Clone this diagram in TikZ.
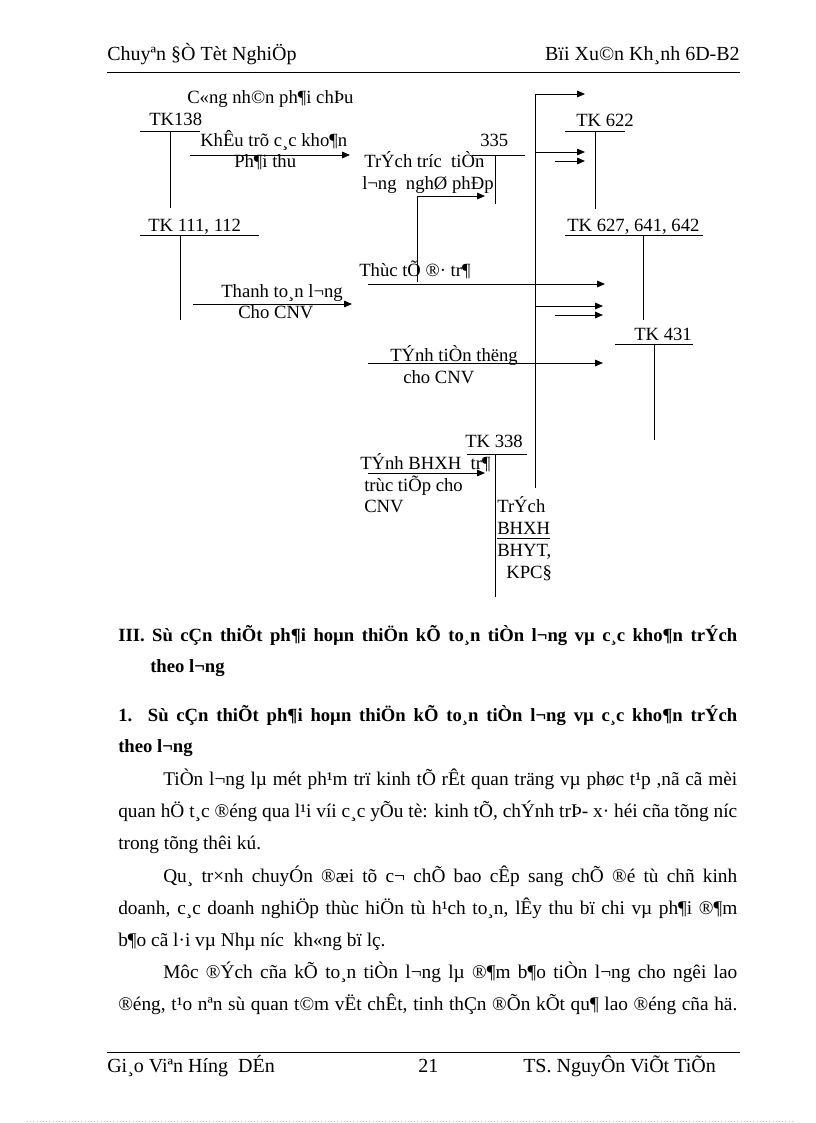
\documentclass[tikz,border=0pt]{standalone}
\usepackage{fontspec}
\setmainfont{Liberation Serif}
\usetikzlibrary{arrows.meta, positioning}

\begin{document}
\begin{tikzpicture}[x=0.75pt, y=-0.75pt,
    every node/.style={font=\fontsize{14}{16}\selectfont, inner sep=0pt, anchor=base west},
    ln/.style={line width=0.6pt},
    arr/.style={-{Triangle[length=6pt, width=5pt]}, line width=0.6pt},
    hd/.style={font=\fontsize{14}{16}\selectfont\bfseries},
    tx/.style={font=\fontsize{14.5}{16}\selectfont},
    pg/.style={font=\fontsize{15}{17}\selectfont}
]
\useasboundingbox (0,0) rectangle (816,1123);

% header
\node[pg] (hdl) at (107,61) {Chuyªn §Ò Tèt NghiÖp};
\node[pg, anchor=base east] (hdr) at (740,61) {Bïi Xu©n Kh¸nh 6D-B2};
\draw[ln] (107,72) -- (740,72);

% accounts
\node (tk138) at (149,126) {TK138};
\draw[ln] (140,131) -- (200,131) (170,131) -- (170,208);
\node (tk111) at (148,232) {TK 111, 112};
\draw[ln] (140,235) -- (259,235) (180,235) -- (180,320);
\node (tk335) at (480,147) {335};
\draw[ln] (472,155) -- (525,155) (495,155) -- (495,204);
\node (tk622) at (576,127) {TK 622};
\draw[ln] (565,131) -- (625,131) (595,131) -- (595,209);
\node (tk627) at (567,232) {TK 627, 641, 642};
\draw[ln] (565,235) -- (703,235) (643,235) -- (643,320);
\node (tk431) at (634,340) {TK 431};
\draw[ln] (615,344) -- (693,344) (654,344) -- (654,440);
\node (tk338) at (465,447) {TK 338};
\draw[ln] (467,454) -- (527,454) (495,454) -- (495,597);
\draw[ln] (535,94) -- (535,488);

% labels
\node (cnpc) at (187,104) {C«ng nh©n ph¶i chÞu};
\node (khtr) at (200,147) {KhÊu trõ c¸c kho¶n};
\node (phth) at (234,168) {Ph¶i thu};
\node (ttl) at (221,297) {Thanh to¸n l¬ng};
\node (ccnv) at (238,318) {Cho CNV};
\node (tttr) at (359,276) {Thùc tÕ ®· tr¶};
\node (tttl) at (364,168) {TrÝch tr­íc~ tiÒn};
\node (lnp) at (362,190) {l¬ng~ nghØ phÐp};
\node (tnth) at (390,361) {TÝnh tiÒn th­ëng};
\node (cnv2) at (403,383) {cho CNV};
\node (tbh1) at (360,469) {TÝnh BHXH~ tr¶};
\node (tbh2) at (364,491) {trùc tiÕp cho};
\node (tbh3) at (364,512) {CNV};
\node (tr1) at (497,512) {TrÝch};
\node (tr2) at (497,534) {BHXH};
\draw[ln] (497,538) -- (550,538);
\node (tr3) at (497,556) {BHYT,};
\node (tr4) at (506,578) {KPC§};

% arrows
\coordinate (a1s) at (190,155); \coordinate (a1e) at (350,155);
\draw[arr] (a1s) -- (a1e);
\coordinate (a2s) at (193,304); \coordinate (a2e) at (352,304);
\draw[arr] (a2s) -- (a2e);
\coordinate (a3s) at (417,282); \coordinate (a3m) at (417,196); \coordinate (a3e) at (485,196);
\draw[arr] (a3s) -- (a3m) -- (a3e);
\coordinate (a4s) at (368,284); \coordinate (a4e) at (605,284);
\draw[arr] (a4s) -- (a4e);
\coordinate (a5s) at (368,363); \coordinate (a5e) at (603,363);
\draw[arr] (a5s) -- (a5e);
\coordinate (a6s) at (368,473); \coordinate (a6e) at (485,473);
\draw[arr] (a6s) -- (a6e);
\coordinate (b1s) at (535,94); \coordinate (b1e) at (585,94);
\draw[arr] (b1s) -- (b1e);
\coordinate (b2s) at (535,152); \coordinate (b2e) at (585,152);
\draw[arr] (b2s) -- (b2e);
\coordinate (b3s) at (555,161); \coordinate (b3e) at (585,161);
\draw[arr] (b3s) -- (b3e);
\coordinate (b4s) at (535,306); \coordinate (b4e) at (603,306);
\draw[arr] (b4s) -- (b4e);
\coordinate (b5s) at (555,315); \coordinate (b5e) at (603,315);
\draw[arr] (b5s) -- (b5e);

% headings
\node[hd] (h3a) at (118,641) {\makebox[464.25pt][s]{III. Sù cÇn thiÕt ph¶i hoµn thiÖn kÕ to¸n tiÒn l¬ng vµ c¸c kho¶n trÝch}};
\node[hd] (h3b) at (150,672) {theo l¬ng};
\node[hd] (h1a) at (118,721) {\makebox[464.25pt][s]{1. Sù cÇn thiÕt ph¶i hoµn thiÖn kÕ to¸n tiÒn l¬ng vµ c¸c kho¶n trÝch}};
\node[hd] (h1b) at (118,752) {theo l¬ng};

% body
\node[tx] (p1) at (163,785) {\makebox[430.5pt][s]{TiÒn l¬ng lµ mét ph¹m trï kinh tÕ rÊt quan träng vµ phøc t¹p ,nã cã mèi}};
\node[tx] (p2) at (118,817) {\makebox[464.25pt][s]{quan hÖ t¸c ®éng qua l¹i víi c¸c yÕu tè: kinh tÕ, chÝnh trÞ- x· héi cña tõng níc}};
\node[tx] (p3) at (118,849) {trong tõng thêi kú.};
\node[tx] (p4) at (163,882) {\makebox[430.5pt][s]{Qu¸ tr×nh chuyÓn ®æi tõ c¬ chÕ bao cÊp sang chÕ ®é tù chñ kinh}};
\node[tx] (p5) at (118,914) {\makebox[464.25pt][s]{doanh, c¸c doanh nghiÖp thùc hiÖn tù h¹ch to¸n, lÊy thu bï chi vµ ph¶i ®¶m}};
\node[tx] (p6) at (118,946) {b¶o cã l·i vµ Nhµ níc~ kh«ng bï lç.};
\node[tx] (p7) at (163,978) {\makebox[430.5pt][s]{Môc ®Ých cña kÕ to¸n tiÒn l¬ng lµ ®¶m b¶o tiÒn l¬ng cho ngêi lao}};
\node[tx] (p8) at (118,1010) {\makebox[464.25pt][s]{®éng, t¹o nªn sù quan t©m vËt chÊt, tinh thÇn ®Õn kÕt qu¶ lao ®éng cña hä.}};

% footer
\draw[ln] (107,1052) -- (740,1052);
\node[pg] (ftl) at (107,1072) {Gi¸o Viªn Híng~ DÉn};
\node[pg] (ftc) at (418,1072) {21};
\node[pg] (ftr) at (523,1072) {TS. NguyÔn ViÕt TiÕn};
\draw[black!25, dotted, line width=0.4pt] (27,1121) -- (792,1121);
\end{tikzpicture}
\end{document}
